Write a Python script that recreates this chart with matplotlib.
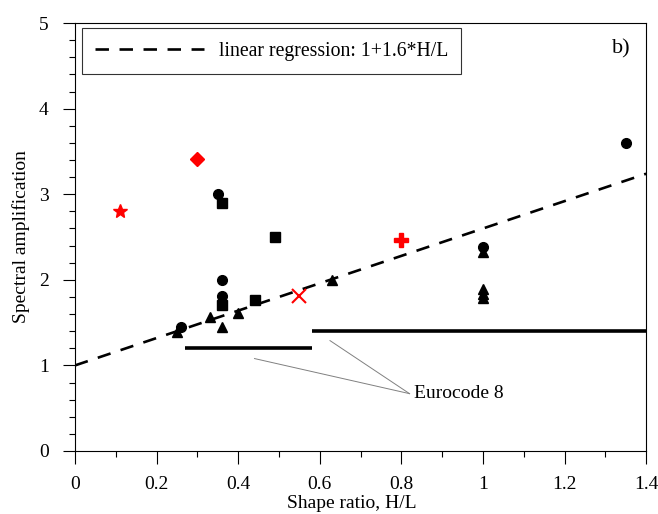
import matplotlib
matplotlib.use("Agg")
import matplotlib.pyplot as plt
from matplotlib.ticker import MultipleLocator
import numpy as np

plt.rcParams['font.family'] = ['Liberation Serif', 'DejaVu Serif']

# Data (H/L, spectral amplification)
circ_x = [0.26, 0.35, 0.36, 0.36, 1.00, 1.35]
circ_y = [1.45, 3.00, 2.00, 1.81, 2.38, 3.60]
sq_x = [0.36, 0.49, 0.36, 0.44]
sq_y = [2.90, 2.50, 1.71, 1.76]
tri_x = [0.25, 0.33, 0.36, 0.40, 0.63, 1.00, 1.00, 1.00, 1.00]
tri_y = [1.39, 1.56, 1.45, 1.61, 2.00, 2.33, 1.89, 1.84, 1.79]
star_x, star_y = [0.11], [2.80]
diam_x, diam_y = [0.30], [3.41]
plus_x, plus_y = [0.80], [2.46]
cross_x, cross_y = [0.55], [1.81]

reg_a, reg_b = 1.0, 1.6
reg_x = [0.0, 1.4]

ec8_1_x, ec8_1_y = [0.27, 0.58], [1.2, 1.2]
ec8_2_x, ec8_2_y = [0.58, 1.4], [1.4, 1.4]

xtick_vals = [0, 0.2, 0.4, 0.6, 0.8, 1.0, 1.2, 1.4]
xtick_labels = ['0', '0.2', '0.4', '0.6', '0.8', '1', '1.2', '1.4']

fig = plt.figure(figsize=(6.58, 5.14), dpi=100)
ax = fig.add_axes([0.114, 0.1226, 0.868, 0.8324])

rx = np.array(reg_x)
ax.plot(rx, reg_a + reg_b * rx, color='black', lw=1.9, dashes=(5.1, 4.0),
        label='linear regression: 1+1.6*H/L', zorder=2)

ax.plot(ec8_1_x, ec8_1_y, color='black', lw=2.6, solid_capstyle='butt', zorder=2)
ax.plot(ec8_2_x, ec8_2_y, color='black', lw=2.6, solid_capstyle='butt', zorder=2)

ax.plot(circ_x, circ_y, 'o', color='black', ms=7, zorder=3)
ax.plot(sq_x, sq_y, 's', color='black', ms=6.5, zorder=3)
ax.plot(tri_x, tri_y, '^', color='black', ms=6.5, zorder=3)
ax.plot(star_x, star_y, '*', color='red', ms=10, zorder=3)
ax.plot(diam_x, diam_y, 'D', color='red', ms=7.5, zorder=3)
ax.plot(plus_x, plus_y, 'P', color='red', ms=10, zorder=3)
ax.plot(cross_x, cross_y, 'x', color='red', ms=10, mew=1.5, zorder=3)

# Eurocode 8 annotation
tx, ty = 0.83, 0.67
ax.text(tx, ty, 'Eurocode 8', fontsize=14, va='center', ha='left')
ax.plot([tx - 0.01, 0.44], [ty, 1.08], color='gray', lw=0.7, zorder=1)
ax.plot([tx - 0.01, 0.625], [ty, 1.29], color='gray', lw=0.7, zorder=1)

ax.text(1.34, 4.70, 'b)', fontsize=16, ha='center', va='center')

ax.set_xlim(0, 1.4)
ax.set_ylim(0, 5)
ax.set_xticks(xtick_vals)
ax.set_xticklabels(xtick_labels)
ax.xaxis.set_minor_locator(MultipleLocator(0.1))
ax.yaxis.set_major_locator(MultipleLocator(1))
ax.yaxis.set_minor_locator(MultipleLocator(0.2))
ax.tick_params(which='major', direction='out', length=9, width=0.8, labelsize=14, pad=9)
ax.tick_params(axis='y', which='major', pad=10)
ax.tick_params(which='minor', direction='out', length=4.5, width=0.8)
for s in ax.spines.values():
    s.set_linewidth(0.8)

ax.set_xlabel('Shape ratio, H/L', fontsize=14)
ax.xaxis.set_label_coords(0.485, -0.102)
ax.set_ylabel('Spectral amplification', fontsize=14, labelpad=6)

leg = ax.legend(loc='upper left', bbox_to_anchor=(0.012, 0.988), fontsize=14.2,
                frameon=True, fancybox=False, edgecolor='black', handlelength=5.5,
                borderpad=0.68, handletextpad=0.75, borderaxespad=0)
leg.get_frame().set_linewidth(0.8)

fig.savefig('out.png', dpi=100)
